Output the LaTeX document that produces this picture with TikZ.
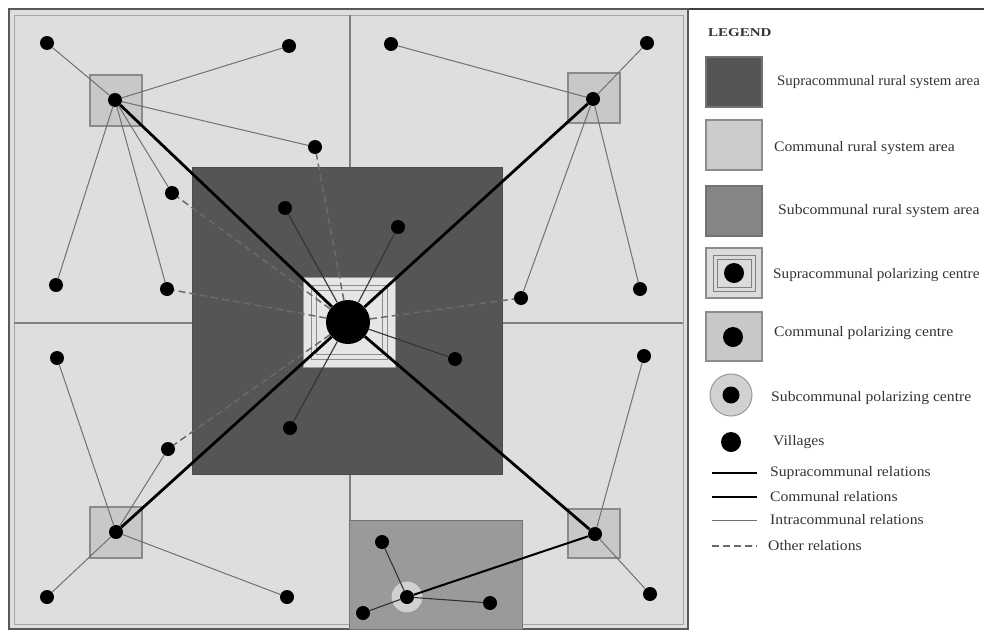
\documentclass[tikz,border=0pt]{standalone}
\usepackage{fontspec}
\setmainfont{Liberation Serif}
\definecolor{lightarea}{HTML}{DEDEDE}
\definecolor{darkarea}{HTML}{555555}
\definecolor{subarea}{HTML}{9A9A9A}
\definecolor{comfill}{HTML}{C8C8C8}
\definecolor{comline}{HTML}{8A8A8A}
\definecolor{centfill}{HTML}{E6E6E6}
\definecolor{intracol}{HTML}{707070}
\definecolor{othercol}{HTML}{6A6A6A}
\definecolor{labcol}{HTML}{333333}
\newcommand{\legtext}[1]{\scalebox{1.08}[1]{#1}}
\begin{document}
\begin{tikzpicture}[x=1pt,y=-1pt,
  village/.style={circle,fill=black,inner sep=0pt,minimum size=14pt},
  bigvillage/.style={circle,fill=black,inner sep=0pt,minimum size=20pt},
  comsq/.style={fill=comfill,draw=comline,line width=1.2pt},
  supra/.style={line width=2.8pt,black},
  communal/.style={line width=2pt,black},
  darkrel/.style={line width=1.1pt,black!80},
  intra/.style={line width=1pt,intracol},
  other/.style={line width=1.5pt,othercol,dash pattern=on 7pt off 4pt},
  lab/.style={anchor=west,inner sep=0pt,font=\fontsize{14.5}{16}\selectfont,text=labcol}]
\useasboundingbox (0,0) rectangle (984,629);
\fill[white] (0,0) rectangle (984,629);
% frame
\draw[line width=1.2pt,black!75] (9,9) -- (984,9);
\filldraw[fill=lightarea,draw=black!65,line width=1.2pt] (9,9) rectangle (688,629);
\draw[black!35,line width=1pt] (14,15) rectangle (683,624);
% quadrant lines
\draw[black!50,line width=1.5pt] (350,15) -- (350,167);
\draw[black!50,line width=1.5pt] (350,474) -- (350,520);
\draw[black!50,line width=1.5pt] (14,323) -- (192,323);
\draw[black!50,line width=1.5pt] (502,323) -- (683,323);
% areas
\filldraw[fill=darkarea,draw=black!70,line width=1pt] (192,167) rectangle (502,474);
\filldraw[fill=subarea,draw=black!55,line width=1pt] (349,520) rectangle (522,629);
% central square
\filldraw[fill=centfill,draw=black!40,line width=1pt] (303,277) rectangle (395,367);
\draw[black!45,line width=0.8pt] (311,285) rectangle (387,359);
\draw[black!45,line width=0.8pt] (316,290) rectangle (382,354);
% communal squares
\filldraw[comsq] (90,75) rectangle (142,126);
\filldraw[comsq] (568,73) rectangle (620,123);
\filldraw[comsq] (90,507) rectangle (142,558);
\filldraw[comsq] (568,509) rectangle (620,558);
% subcommunal ring
\filldraw[fill=black!18,draw=black!40,line width=1pt] (407,597) circle[radius=16];
% nodes
\node[circle,fill=black,inner sep=0pt,minimum size=44pt] (C) at (348,322) {};
\node[village] (TL) at (115,100) {};
\node[village] (TR) at (593,99) {};
\node[village] (BL) at (116,532) {};
\node[village] (BR) at (595,534) {};
\node[village] (S) at (407,597) {};
% villages TL
\node[village] (a1) at (47,43) {};
\node[village] (a2) at (289,46) {};
\node[village] (a3) at (315,147) {};
\node[village] (a4) at (172,193) {};
\node[village] (a5) at (56,285) {};
\node[village] (a6) at (167,289) {};
% villages TR
\node[village] (b1) at (391,44) {};
\node[village] (b2) at (647,43) {};
\node[village] (b3) at (521,298) {};
\node[village] (b4) at (640,289) {};
% villages BL
\node[village] (c1) at (57,358) {};
\node[village] (c2) at (168,449) {};
\node[village] (c3) at (47,597) {};
\node[village] (c4) at (287,597) {};
% villages BR
\node[village] (d1) at (644,356) {};
\node[village] (d2) at (650,594) {};
% villages central area
\node[village] (e1) at (285,208) {};
\node[village] (e2) at (398,227) {};
\node[village] (e3) at (455,359) {};
\node[village] (e4) at (290,428) {};
% villages sub area
\node[village] (f1) at (382,542) {};
\node[village] (f2) at (363,613) {};
\node[village] (f3) at (490,603) {};
% other relations
\foreach \v in {a3,a4,a6,b3,c2} \draw[other] (C) -- (\v);
% intracommunal
\foreach \v in {a1,a2,a3,a4,a5,a6} \draw[intra] (TL) -- (\v);
\foreach \v in {b1,b2,b3,b4} \draw[intra] (TR) -- (\v);
\foreach \v in {c1,c2,c3,c4} \draw[intra] (BL) -- (\v);
\foreach \v in {d1,d2} \draw[intra] (BR) -- (\v);
% central relations
\foreach \v in {e1,e2,e3,e4} \draw[darkrel] (C) -- (\v);
\foreach \v in {f1,f2,f3} \draw[darkrel] (S) -- (\v);
% communal
\draw[communal] (BR) -- (S);
% supracommunal
\foreach \v in {TL,TR,BL,BR} \draw[supra] (C) -- (\v);
% legend
\node[anchor=west,inner sep=0pt,font=\bfseries\fontsize{12}{14}\selectfont,text=labcol] (lg) at (708,33) {\scalebox{1.25}[1]{LEGEND}};
\filldraw[fill=darkarea,draw=black!55,line width=1.5pt] (706,57) rectangle (762,107);
\node[lab] (t1) at (777,82) {\scalebox{1.025}[1]{Supracommunal rural system area}};
\filldraw[fill=black!20,draw=black!45,line width=1.5pt] (706,120) rectangle (762,170);
\node[lab] (t2) at (774,148) {\legtext{Communal rural system area}};
\filldraw[fill=black!48,draw=black!55,line width=1.5pt] (706,186) rectangle (762,236);
\node[lab] (t3) at (778,211) {\legtext{Subcommunal rural system area}};
\filldraw[fill=black!14,draw=black!45,line width=1.5pt] (706,248) rectangle (762,298);
\draw[black!50,line width=0.8pt] (713,255) rectangle (755,291);
\draw[black!50,line width=0.8pt] (717,259) rectangle (751,287);
\node[bigvillage] (l4) at (734,273) {};
\node[lab] (t4) at (773,275) {\scalebox{1.05}[1]{Supracommunal polarizing centre}};
\filldraw[fill=comfill,draw=black!45,line width=1.5pt] (706,312) rectangle (762,361);
\node[bigvillage] (l5) at (733,337) {};
\node[lab] (t5) at (774,333) {\legtext{Communal polarizing centre}};
\filldraw[fill=black!18,draw=black!40,line width=1pt] (731,395) circle[radius=21];
\node[bigvillage,minimum size=17pt] (l6) at (731,395) {};
\node[lab] (t6) at (771,398) {\legtext{Subcommunal polarizing centre}};
\node[bigvillage] (l7) at (731,442) {};
\node[lab] (t7) at (773,442) {\legtext{Villages}};
\coordinate (s1a) at (712,473); \coordinate (s1b) at (757,473);
\coordinate (s2a) at (712,497); \coordinate (s2b) at (757,497);
\coordinate (s3a) at (712,520); \coordinate (s3b) at (757,520);
\coordinate (s4a) at (712,546); \coordinate (s4b) at (757,546);
\draw[supra] (s1a) -- (s1b);
\draw[communal] (s2a) -- (s2b);
\draw[intra] (s3a) -- (s3b);
\draw[other] (s4a) -- (s4b);
\node[lab] (t8) at (770,473) {\legtext{Supracommunal relations}};
\node[lab] (t9) at (770,497) {\legtext{Communal relations}};
\node[lab] (t10) at (770,520) {\legtext{Intracommunal relations}};
\node[lab] (t11) at (768,546) {\legtext{Other relations}};
\end{tikzpicture}
\end{document}
